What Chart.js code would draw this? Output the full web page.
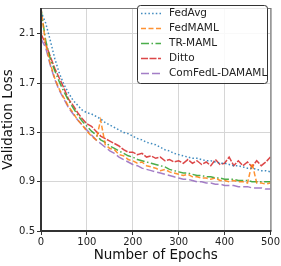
<!DOCTYPE html>
<html><head><meta charset="utf-8">
<script src="https://cdn.jsdelivr.net/npm/chart.js@4/dist/chart.umd.min.js"></script>
<style>html,body{margin:0;padding:0;background:#fff;}#wrap{width:281px;height:266px;}</style>
</head><body><div id="wrap"><canvas id="c" width="281" height="266"></canvas></div>
<script>
const epochs = [0,10,20,30,40,50,60,70,80,90,100,110,120,130,140,150,160,170,180,190,200,210,220,230,240,250,260,270,280,290,300,310,320,330,340,350,360,370,380,390,400,410,420,430,440,450,460,470,480,490,500];
const fedAvg = [2.28,2.19,2.05,1.90,1.78,1.69,1.62,1.56,1.52,1.48,1.46,1.45,1.43,1.41,1.38,1.36,1.34,1.32,1.30,1.29,1.27,1.25,1.24,1.22,1.21,1.20,1.18,1.16,1.15,1.13,1.12,1.11,1.10,1.09,1.09,1.08,1.07,1.07,1.06,1.05,1.05,1.04,1.03,1.03,1.02,1.01,1.01,1.00,0.99,0.99,0.98];
const fedMAML = [2.31,2.02,1.86,1.74,1.65,1.58,1.51,1.46,1.40,1.36,1.31,1.27,1.24,1.40,1.20,1.17,1.16,1.12,1.11,1.08,1.07,1.05,1.06,1.03,1.02,1.01,0.99,1.00,0.98,0.97,0.96,0.95,0.96,0.94,0.94,0.93,0.93,0.92,0.93,0.91,0.91,0.90,0.91,0.90,0.90,0.89,1.05,0.89,0.89,0.88,0.89];
const trMAML = [2.30,2.05,1.90,1.80,1.71,1.63,1.56,1.50,1.44,1.39,1.35,1.31,1.28,1.24,1.22,1.19,1.17,1.15,1.13,1.11,1.10,1.08,1.07,1.06,1.05,1.04,1.03,1.02,1.00,0.99,0.98,0.97,0.97,0.96,0.95,0.95,0.94,0.94,0.93,0.93,0.92,0.92,0.92,0.91,0.91,0.91,0.90,0.90,0.90,0.90,0.90];
const ditto = [2.10,2.02,1.92,1.82,1.74,1.66,1.57,1.52,1.46,1.41,1.37,1.35,1.31,1.27,1.25,1.23,1.21,1.19,1.16,1.14,1.14,1.12,1.13,1.10,1.11,1.09,1.10,1.07,1.08,1.06,1.07,1.05,1.08,1.05,1.07,1.04,1.06,1.03,1.08,1.04,1.05,1.10,1.03,1.07,1.03,1.06,1.02,1.07,1.03,1.06,1.10];
const comFedL = [2.06,1.99,1.85,1.73,1.64,1.57,1.50,1.45,1.40,1.36,1.32,1.28,1.24,1.21,1.18,1.15,1.13,1.10,1.08,1.06,1.04,1.03,1.01,1.00,0.99,0.98,0.97,0.96,0.95,0.94,0.93,0.92,0.92,0.91,0.90,0.90,0.89,0.89,0.88,0.88,0.87,0.87,0.87,0.86,0.86,0.86,0.85,0.85,0.85,0.84,0.84];
const xTicks = [0,100,200,300,400,500];
const yTicks = [0.5,0.9,1.3,1.7,2.1];

const FONT = "'DejaVu Sans', sans-serif";
const series = [
  {label:'FedAvg', data:fedAvg, color:'rgba(31,119,180,0.85)', dash:[1.5,2.2]},
  {label:'FedMAML', data:fedMAML, color:'rgba(255,127,14,0.85)', dash:[5,2.5]},
  {label:'TR-MAML', data:trMAML, color:'rgba(44,160,44,0.85)', dash:[8,2.5,1.5,2.5]},
  {label:'Ditto', data:ditto, color:'rgba(214,39,40,0.85)', dash:[7,1.5]},
  {label:'ComFedL-DAMAML', data:comFedL, color:'rgba(148,103,189,0.85)', dash:[8,3]}
];

const frame = {
  id:'frame',
  afterDraw(chart){
    const {ctx, chartArea:a} = chart;
    ctx.save();
    ctx.strokeStyle = '#777'; ctx.lineWidth = 1.2;
    ctx.beginPath(); ctx.moveTo(a.left, a.top+0.5); ctx.lineTo(a.right+0.5, a.top+0.5); ctx.lineTo(a.right+0.5, a.bottom); ctx.stroke();
    ctx.strokeStyle = '#333'; ctx.lineWidth = 2;
    ctx.beginPath(); ctx.moveTo(a.left, a.top); ctx.lineTo(a.left, a.bottom); ctx.lineTo(a.right+1, a.bottom); ctx.stroke();
    // legend
    const lx = 137.5, ly = 5.5, lw = 130, lh = 78;
    ctx.fillStyle = 'rgba(255,255,255,0.85)';
    ctx.strokeStyle = '#333'; ctx.lineWidth = 1;
    ctx.beginPath();
    if (ctx.roundRect) ctx.roundRect(lx, ly, lw, lh, 3); else ctx.rect(lx, ly, lw, lh);
    ctx.fill(); ctx.stroke();
    ctx.font = '10.5px ' + FONT; ctx.textBaseline = 'middle';
    series.forEach((s,i)=>{
      const y = 13.5 + i*15;
      ctx.strokeStyle = s.color; ctx.lineWidth = 1.5; ctx.setLineDash(s.dash);
      ctx.beginPath(); ctx.moveTo(141, y); ctx.lineTo(161, y); ctx.stroke();
      ctx.setLineDash([]);
      ctx.fillStyle = '#222'; ctx.fillText(s.label, 169, y);
    });
    ctx.restore();
  }
};

new Chart(document.getElementById('c'), {
  type:'line',
  data:{ datasets: series.map(s=>({
    label:s.label, data: epochs.map((e,i)=>({x:e, y:s.data[i]})),
    borderColor:s.color, borderWidth:1.5, borderDash:s.dash, pointRadius:0, fill:false, tension:0
  }))},
  options:{
    responsive:false, animation:false, devicePixelRatio:1,
    layout:{padding:{top:0,right:10,left:0,bottom:0}},
    plugins:{legend:{display:false}, tooltip:{enabled:false}},
    scales:{
      x:{type:'linear', min:0, max:500,
        afterBuildTicks:(sc)=>{sc.ticks = xTicks.map(v=>({value:v}));},
        afterFit:(sc)=>{sc.height = 35;},
        ticks:{font:{family:FONT,size:10}, color:'#222', padding:1, maxRotation:0},
        grid:{color:'#d6d6d6', lineWidth:1, tickLength:4, tickColor:'#333'},
        border:{display:false},
        title:{display:true, text:'Number of Epochs', font:{family:FONT,size:13.5}, color:'#111', padding:{top:0,bottom:2}}
      },
      y:{type:'linear', min:0.5, max:2.31,
        afterBuildTicks:(sc)=>{sc.ticks = yTicks.map(v=>({value:v}));},
        afterFit:(sc)=>{sc.width = 41;},
        ticks:{font:{family:FONT,size:10}, color:'#222', padding:2, callback:(v)=>v.toFixed(1)},
        grid:{color:'#d6d6d6', lineWidth:1, tickLength:4, tickColor:'#333'},
        border:{display:false},
        title:{display:true, text:'Validation Loss', font:{family:FONT,size:13.5}, color:'#111', padding:{top:0,bottom:0}}
      }
    }
  },
  plugins:[frame]
});
</script></body></html>
